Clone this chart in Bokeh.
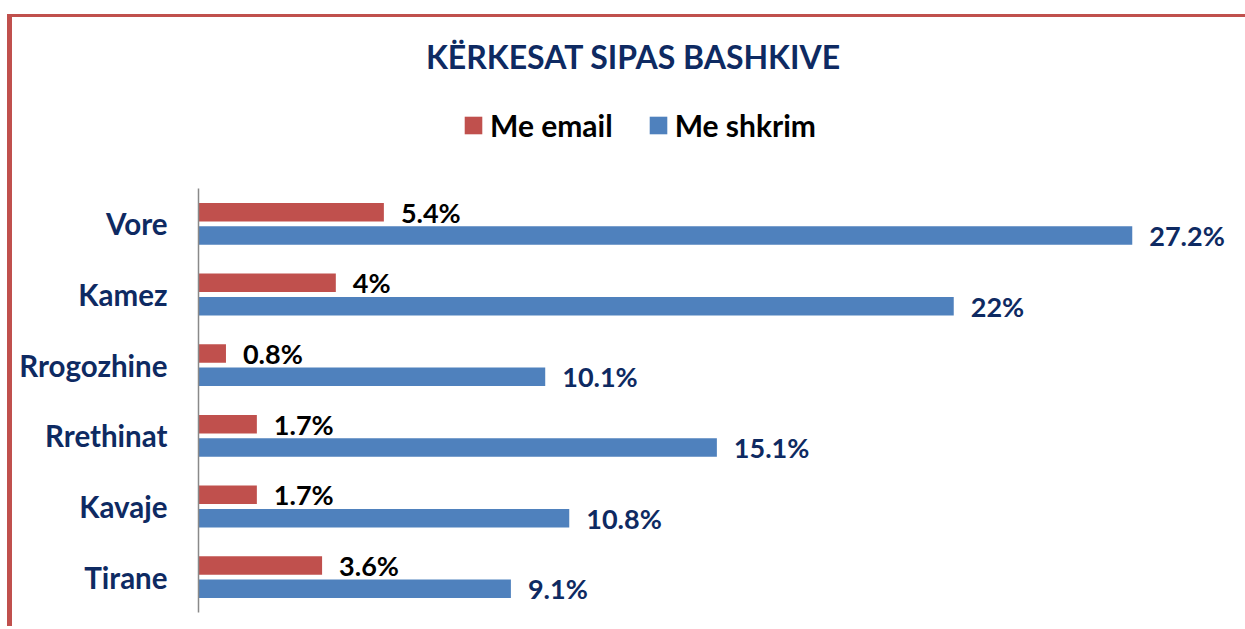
from bokeh.plotting import figure
from bokeh.models import Range1d, Legend, LegendItem, Label, ColumnDataSource, FixedTicker
from bokeh.core.properties import value
from bokeh.embed import file_html
from bokeh.resources import INLINE

# ---- data ----
categories = ["Vore", "Kamez", "Rrogozhine", "Rrethinat", "Kavaje", "Tirane"]
me_email = [5.4, 4, 0.8, 1.7, 1.7, 3.6]
me_shkrim = [27.2, 22, 10.1, 15.1, 10.8, 9.1]
series_names = ["Me email", "Me shkrim"]
title_text = "KËRKESAT SIPAS BASHKIVE"

RED = "#C0504D"
BLUE = "#4F81BD"
NAVY = "#0E2A62"
FONT = "Lato"

n = len(categories)
pos = [n - 0.5 - i for i in range(n)]          # category centres, first at top
DODGE = 0.165
BAR_H = 0.262

src = ColumnDataSource(dict(
    y_email=[v + DODGE for v in pos],
    y_shkrim=[v - DODGE for v in pos],
    email=me_email,
    shkrim=me_shkrim,
    email_lbl=[f"{v:g}%" for v in me_email],
    shkrim_lbl=[f"{v:g}%" for v in me_shkrim],
))

p = figure(
    width=1238, height=612,
    y_range=Range1d(0, 8.42),
    x_range=Range1d(0, 30.12),
    output_backend="svg", toolbar_location=None,
    min_border_left=186, min_border_right=18, min_border_top=0, min_border_bottom=17,
    margin=(14, 0, 0, 7),
    styles={"border-top": f"3px solid {RED}", "border-left": f"5px solid {RED}"},
)
p.outline_line_color = None
p.xgrid.visible = False
p.ygrid.visible = False
p.xaxis.visible = False

yax = p.yaxis[0]
yax.ticker = FixedTicker(ticks=pos)
yax.major_label_overrides = {t: c for t, c in zip(pos, categories)}
yax.bounds = (0, n)
yax.axis_line_color = "#898989"
yax.axis_line_width = 1.5
yax.major_tick_line_color = None
yax.minor_tick_line_color = None
yax.major_tick_out = 0
yax.major_tick_in = 0
yax.major_label_standoff = 31
yax.major_label_text_font = FONT
yax.major_label_text_font_style = "bold"
yax.major_label_text_font_size = "29.5px"
yax.major_label_text_color = NAVY

r_email = p.hbar(y="y_email", right="email", left=0, height=BAR_H,
                 source=src, fill_color=RED, line_color=None)
r_shkrim = p.hbar(y="y_shkrim", right="shkrim", left=0, height=BAR_H,
                  source=src, fill_color=BLUE, line_color=None)

p.text(x="email", y="y_email", text="email_lbl", source=src,
       x_offset=17, text_align="left", text_baseline="middle",
       text_font=value(FONT), text_font_style="bold", text_font_size="27px", text_color="black")
p.text(x="shkrim", y="y_shkrim", text="shkrim_lbl", source=src,
       x_offset=17, text_align="left", text_baseline="middle",
       text_font=value(FONT), text_font_style="bold", text_font_size="27px", text_color=NAVY)

title = Label(x=435, y=556, x_units="screen", y_units="screen", text=title_text,
              text_align="center", text_baseline="middle",
              text_font=FONT, text_font_style="bold", text_font_size="32px", text_color=NAVY)
p.add_layout(title)

legend = Legend(
    items=[LegendItem(label=series_names[0], renderers=[r_email]),
           LegendItem(label=series_names[1], renderers=[r_shkrim])],
    orientation="horizontal", location=(264, 469),
    glyph_width=22, glyph_height=22, label_standoff=6, spacing=34,
    padding=0, margin=0, border_line_color=None, background_fill_alpha=0,
    label_text_font=FONT, label_text_font_style="bold", label_text_font_size="30px",
    label_text_color="black",
)
p.add_layout(legend, "center")

open("out.html", "w").write(file_html(p, INLINE))
